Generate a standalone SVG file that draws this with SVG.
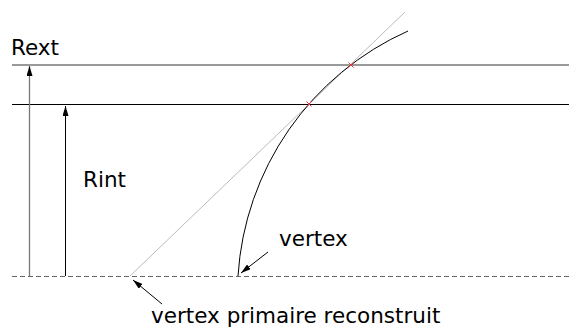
<svg xmlns="http://www.w3.org/2000/svg" width="569" height="329" viewBox="0 0 569 329">
<style>
text{font-family:"DejaVu Sans",sans-serif;font-size:21.5px;fill:#000}
.arr{stroke:#000;stroke-width:1;fill:none;marker-end:url(#ah)}
.mk{stroke:#e33;stroke-width:1}
</style>
<defs>
<marker id="ah" viewBox="0 0 10 6" refX="10" refY="3" markerWidth="10" markerHeight="6" markerUnits="userSpaceOnUse" orient="auto">
<path d="M0,0 L10,3 L0,6 z" fill="#000"/>
</marker>
</defs>
<rect width="569" height="329" fill="#fff"/>
<g id="rext-line"><line x1="12" y1="65" x2="569" y2="65" stroke="#777" stroke-width="1.3"/></g>
<g id="rint-line"><line x1="12" y1="104.5" x2="569" y2="104.5" stroke="#000" stroke-width="1"/></g>
<g id="axis"><line x1="12" y1="276.5" x2="569" y2="276.5" stroke="#666" stroke-width="1" stroke-dasharray="5,3"/></g>
<g id="track-line"><line x1="130" y1="276" x2="405" y2="12" stroke="#bbb" stroke-width="1"/></g>
<g id="track-curve"><path d="M238,276 A288,288 0 0 1 408,31" fill="none" stroke="#000" stroke-width="1"/></g>
<g id="hits">
<path class="mk" d="M306.5,101.5 l5,5 M311.5,101.5 l-5,5"/>
<path class="mk" d="M348.5,62.5 l5,5 M353.5,62.5 l-5,5"/>
</g>
<g id="connectors">
<line x1="29.5" y1="276" x2="29.5" y2="66" stroke="#777" stroke-width="1.3" marker-end="url(#ah)"/>
<line class="arr" x1="65.5" y1="276" x2="65.5" y2="106"/>
<line class="arr" x1="268" y1="252" x2="241" y2="273"/>
<line class="arr" x1="162" y1="304" x2="133" y2="280"/>
</g>
<g id="labels">
<text x="11" y="55">Rext</text>
<text x="83" y="187">Rint</text>
<text x="279" y="246">vertex</text>
<text x="151" y="323">vertex primaire reconstruit</text>
</g>
</svg>
